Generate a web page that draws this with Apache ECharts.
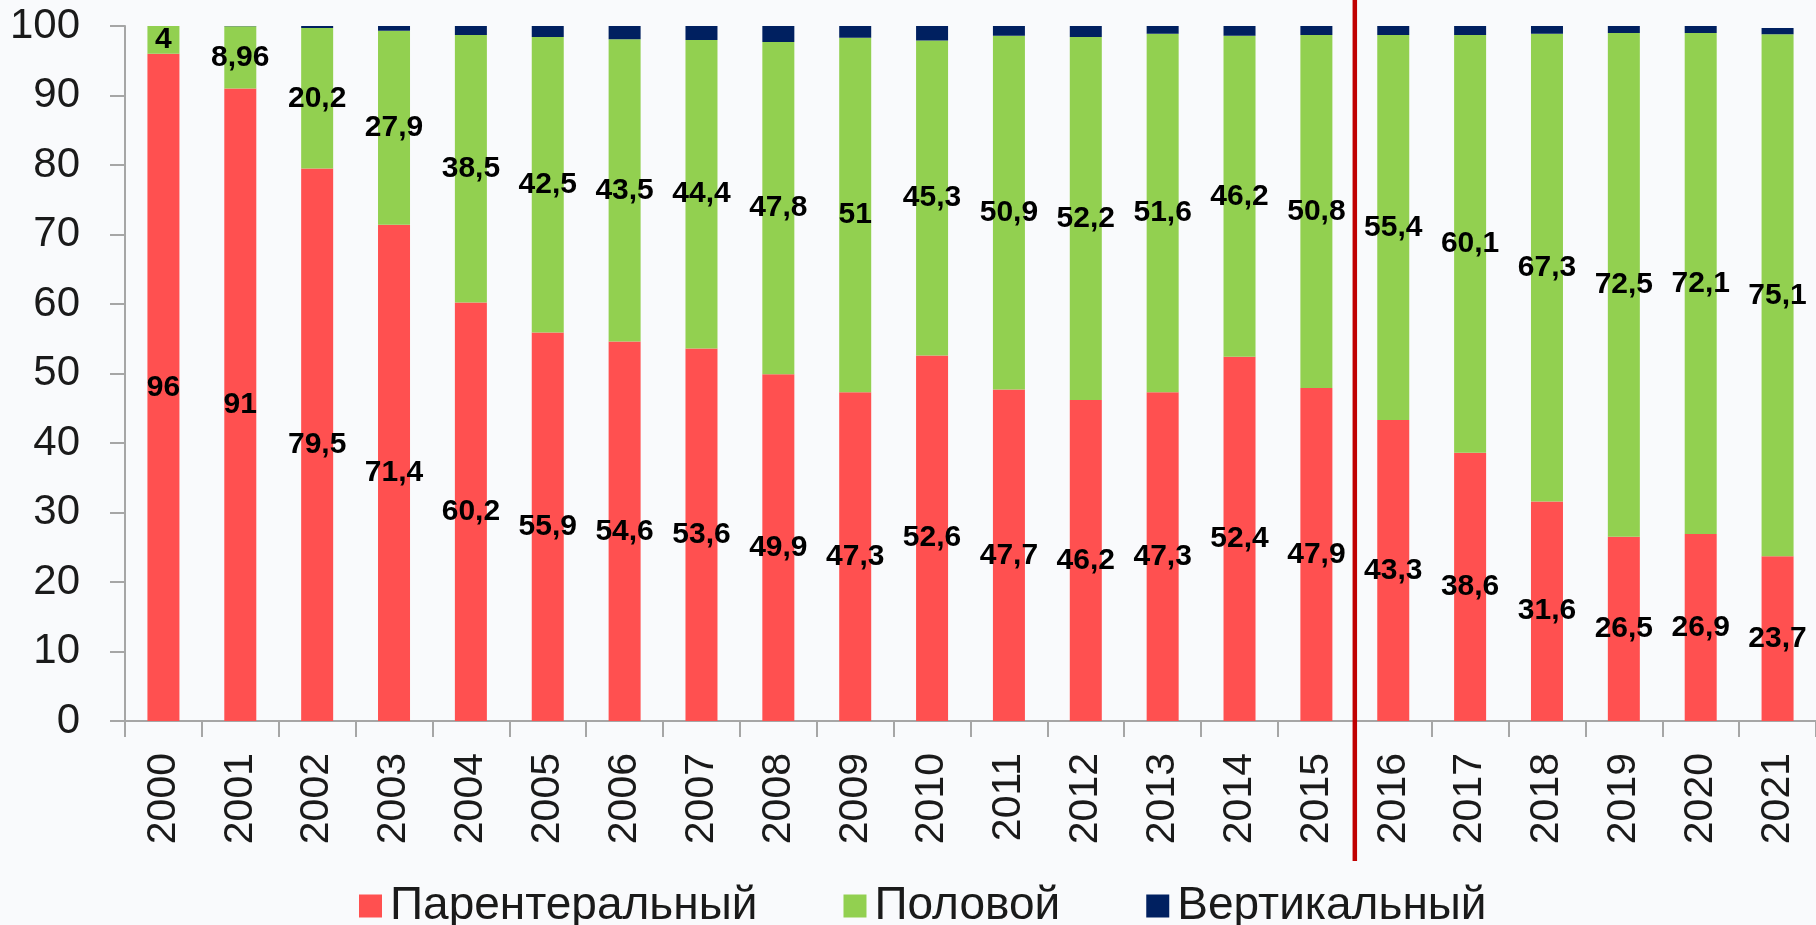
<!DOCTYPE html>
<html>
<head>
<meta charset="utf-8">
<script src="https://cdn.jsdelivr.net/npm/echarts@6/dist/echarts.min.js"></script>
<style>
  html, body { margin: 0; padding: 0; background: #f9fafc; }
  #chart { width: 1816px; height: 925px; }
</style>
</head>
<body>
<div id="chart"></div>
<script>
// years on the x axis
const years = ['2000', '2001', '2002', '2003', '2004', '2005', '2006', '2007', '2008', '2009', '2010',
  '2011', '2012', '2013', '2014', '2015', '2016', '2017', '2018', '2019', '2020', '2021']

// shares, %
const parenteral = [96, 91, 79.5, 71.4, 60.2, 55.9, 54.6, 53.6, 49.9, 47.3, 52.6,
  47.7, 46.2, 47.3, 52.4, 47.9, 43.3, 38.6, 31.6, 26.5, 26.9, 23.7]
const sexual = [4, 8.96, 20.2, 27.9, 38.5, 42.5, 43.5, 44.4, 47.8, 51, 45.3,
  50.9, 52.2, 51.6, 46.2, 50.8, 55.4, 60.1, 67.3, 72.5, 72.1, 75.1]
const vertical = [0, 0.04, 0.3, 0.7, 1.3, 1.6, 1.9, 2.0, 2.3, 1.7, 2.1,
  1.4, 1.6, 1.1, 1.4, 1.3, 1.3, 1.3, 1.1, 1.0, 1.0, 0.9]

const seriesNames = ['Парентеральный', 'Половой', 'Вертикальный']
const yTicks = [0, 10, 20, 30, 40, 50, 60, 70, 80, 90, 100]

const font = '"Liberation Sans", Arial, sans-serif'

const chart = echarts.init(document.getElementById('chart'))

// подписи с запятой вместо точки
const labelStyle = {
  show: true,
  position: 'inside',
  color: '#000',
  fontSize: 30,
  fontWeight: 'bold',
  fontFamily: font,
  formatter: p => String(p.value).replace('.', ',')
}

const option = {
  backgroundColor: '#f9fafc',
  animation: false,
  grid: {
    left: 125,
    top: 26,
    width: 1694,
    height: 695
  },
  legend: {
    left: 354,
    top: 878,
    icon: 'rect',
    itemWidth: 23,
    itemHeight: 23,
    itemGap: 86,
    data: seriesNames,
    textStyle: {
      fontSize: 46,
      fontFamily: font,
      color: '#1a1a1a',
      padding: [0, 0, 0, 3]
    }
  },
  xAxis: {
    type: 'category',
    data: years,
    axisLine: { lineStyle: { color: '#a6a6a6', width: 2 } },
    axisTick: { show: true, length: 16, interval: 0, lineStyle: { color: '#a6a6a6', width: 2 } },
    axisLabel: {
      rotate: 90,
      interval: 0,
      margin: 32,
      fontSize: 41,
      fontFamily: font,
      color: '#1a1a1a'
    }
  },
  yAxis: {
    type: 'value',
    min: yTicks[0],
    max: yTicks[yTicks.length - 1],
    interval: 10,
    splitLine: { show: false },
    axisLine: { show: true, lineStyle: { color: '#a6a6a6', width: 2 } },
    axisTick: { show: true, length: 15, lineStyle: { color: '#a6a6a6', width: 2 } },
    axisLabel: {
      margin: 45,
      fontSize: 42,
      fontFamily: font,
      color: '#1a1a1a'
    }
  },
  series: [
    {
      name: seriesNames[0],
      type: 'bar',
      stack: 'total',
      barWidth: 32,
      data: parenteral,
      itemStyle: { color: '#ff5050' },
      label: labelStyle
    },
    {
      name: seriesNames[1],
      type: 'bar',
      stack: 'total',
      barWidth: 32,
      data: sexual,
      itemStyle: { color: '#92d050' },
      label: labelStyle
    },
    {
      name: seriesNames[2],
      type: 'bar',
      stack: 'total',
      barWidth: 32,
      data: vertical,
      itemStyle: { color: '#002060' }
    }
  ]
}
chart.setOption(option)

// красная разделительная линия между 2015 и 2016
const x15 = chart.convertToPixel({ xAxisIndex: 0 }, '2015')
const x16 = chart.convertToPixel({ xAxisIndex: 0 }, '2016')
const xSplit = (x15 + x16) / 2
chart.setOption({
  graphic: [{
    type: 'line',
    shape: { x1: xSplit, y1: 0, x2: xSplit, y2: 861 },
    style: { stroke: '#c00000', lineWidth: 4.5 },
    z: 100
  }]
})
</script>
</body>
</html>
